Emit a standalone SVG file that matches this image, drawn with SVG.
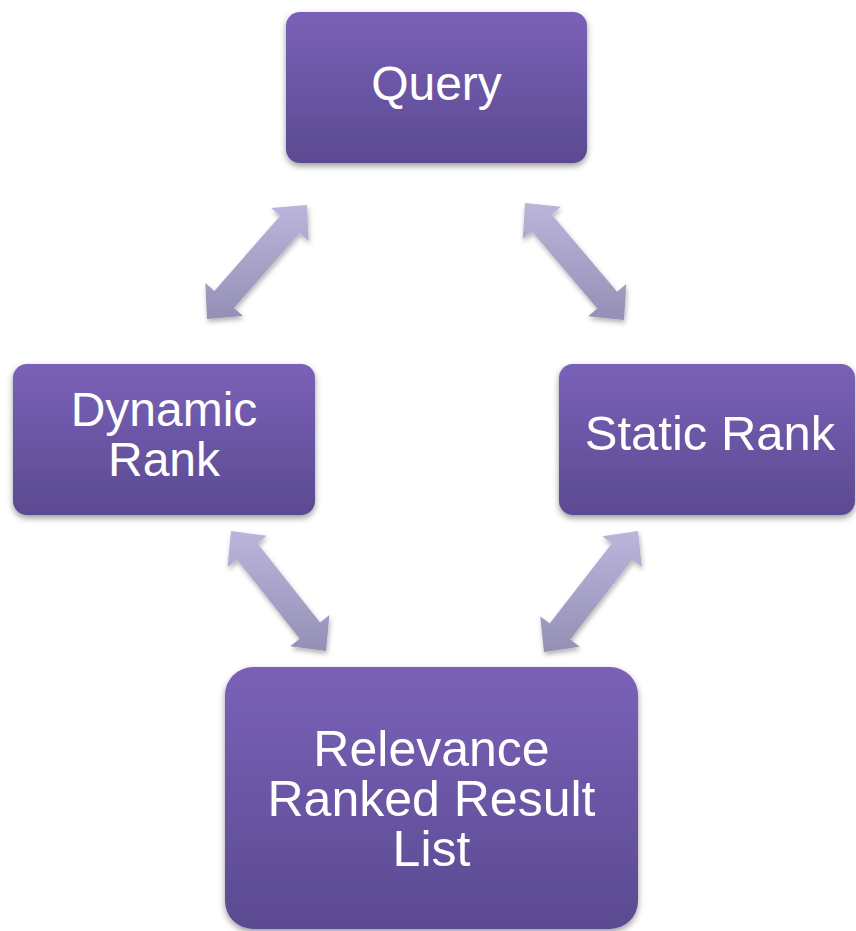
<svg xmlns="http://www.w3.org/2000/svg" width="856" height="931" viewBox="0 0 856 931">
<defs>
<linearGradient id="boxGrad" x1="0" y1="0" x2="0" y2="1">
<stop offset="0" stop-color="#7a61b8"/>
<stop offset="1" stop-color="#5b4a91"/>
</linearGradient>
<linearGradient id="arrowGrad" x1="0" y1="0" x2="0" y2="1">
<stop offset="0" stop-color="#bbb5db"/>
<stop offset="1" stop-color="#9490b5"/>
</linearGradient>
<filter id="shadow" x="-10%" y="-10%" width="120%" height="125%">
<feDropShadow dx="0" dy="3" stdDeviation="3" flood-color="#000" flood-opacity="0.4"/>
</filter>
<filter id="ashadow" x="-20%" y="-20%" width="140%" height="140%">
<feDropShadow dx="1" dy="3" stdDeviation="2.5" flood-color="#000" flood-opacity="0.3"/>
</filter>
</defs>
<style>
.box{fill:url(#boxGrad);filter:url(#shadow);}
.lbl{fill:#ffffff;font-family:"Liberation Sans",Arial,sans-serif;text-anchor:middle;}
.arr{fill:url(#arrowGrad);filter:url(#ashadow);}
</style>
<rect width="856" height="931" fill="#ffffff"/>
<g id="connectors">
<path class="arr" d="M207,319 L242.95,315.94 L233.92,308.02 L299.62,233.12 L308.65,241.04 L307,205 L271.05,208.06 L280.08,215.98 L214.38,290.88 L205.35,282.96 Z"/>
<path class="arr" d="M525,203 L522.71,239.00 L531.88,231.25 L597.28,308.55 L588.11,316.30 L624,320 L626.29,284.00 L617.12,291.75 L551.72,214.45 L560.89,206.70 Z"/>
<path class="arr" d="M231,531 L227.54,566.91 L236.95,559.46 L299.67,638.68 L290.26,646.13 L326,651 L329.46,615.09 L320.05,622.54 L257.33,543.32 L266.74,535.87 Z"/>
<path class="arr" d="M544,652 L579.69,646.81 L570.22,639.45 L632.32,559.51 L641.79,566.87 L638,531 L602.31,536.19 L611.78,543.55 L549.68,623.49 L540.21,616.13 Z"/>
</g>
<g id="query">
<rect class="box" x="286" y="12" width="301" height="151" rx="14"/>
<text class="lbl" x="436.5" y="100" font-size="48">Query</text>
</g>
<g id="dynamic-rank">
<rect class="box" x="13" y="364" width="302" height="151" rx="14"/>
<text class="lbl" x="164" y="426" font-size="48">Dynamic</text>
<text class="lbl" x="164" y="476" font-size="48">Rank</text>
</g>
<g id="static-rank">
<rect class="box" x="559" y="364" width="296" height="151" rx="14"/>
<text class="lbl" x="710" y="450" font-size="49">Static Rank</text>
</g>
<g id="relevance-list">
<rect class="box" x="225" y="667" width="413" height="262" rx="28"/>
<text class="lbl" x="431.5" y="766" font-size="50">Relevance</text>
<text class="lbl" x="431.5" y="816" font-size="50">Ranked Result</text>
<text class="lbl" x="431.5" y="866" font-size="50">List</text>
</g>
</svg>
